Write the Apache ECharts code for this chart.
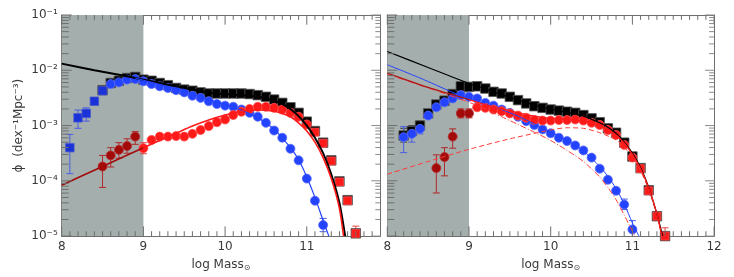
<!DOCTYPE html>
<html><head><meta charset="utf-8">
<script src="https://cdn.jsdelivr.net/npm/echarts@6/dist/echarts.min.js"></script>
<style>html,body{margin:0;padding:0;background:#fff}#c{width:734px;height:277px}</style>
</head><body><div id="c"></div>
<script>
// ---- tick labels ----
const yTickValues = [-5, -4, -3, -2, -1];
const yTickLabels = ['10⁻⁵', '10⁻⁴', '10⁻³', '10⁻²', '10⁻¹'];
const xTicksLeft = [8, 9, 10, 11];
const xTicksRight = [8, 9, 10, 11, 12];

// ---- LEFT PANEL (values are log10 phi) ----
const L_totalX = [8.5,8.6,8.7,8.8,8.9,9.0,9.1,9.2,9.3,9.4,9.5,9.6,9.7,9.8,9.9,10.0,10.1,10.2,10.3,10.4,10.5,10.6,10.7,10.8,10.9,11.0,11.1,11.2,11.3,11.4,11.5,11.6];
const L_total = [-2.36,-2.23,-2.19,-2.14,-2.12,-2.17,-2.19,-2.23,-2.27,-2.32,-2.35,-2.37,-2.40,-2.42,-2.42,-2.42,-2.42,-2.42,-2.43,-2.45,-2.48,-2.53,-2.59,-2.67,-2.77,-2.93,-3.10,-3.31,-3.63,-4.01,-4.35,-4.95];
const L_blueSqX = [8.1,8.2,8.3,8.4,8.5];
const L_blueSq = [-3.40,-2.86,-2.78,-2.56,-2.37];
const L_blueX = [8.6,8.7,8.8,8.9,9.0,9.1,9.2,9.3,9.4,9.5,9.6,9.7,9.8,9.9,10.0,10.1,10.2,10.3,10.4,10.5,10.6,10.7,10.8,10.9,11.0,11.1,11.2];
const L_blue = [-2.25,-2.22,-2.17,-2.16,-2.20,-2.25,-2.29,-2.32,-2.36,-2.40,-2.46,-2.50,-2.56,-2.61,-2.64,-2.66,-2.71,-2.77,-2.84,-2.95,-3.09,-3.22,-3.42,-3.63,-3.96,-4.36,-4.80];
const L_darkRedX = [8.5,8.6,8.7,8.8,8.9];
const L_darkRed = [-3.74,-3.54,-3.44,-3.37,-3.20];
const L_redX = [9.0,9.1,9.2,9.3,9.4,9.5,9.6,9.7,9.8,9.9,10.0,10.1,10.2,10.3,10.4,10.5,10.6,10.7,10.8,10.9,11.0];
const L_red = [-3.41,-3.26,-3.20,-3.20,-3.19,-3.20,-3.15,-3.08,-3.01,-2.94,-2.89,-2.81,-2.75,-2.70,-2.66,-2.66,-2.68,-2.71,-2.77,-2.84,-2.98];
const L_redSqX = [11.1,11.2,11.3,11.4,11.5,11.6];
const L_redSq = [-3.12,-3.32,-3.64,-4.02,-4.36,-4.95];
// error bars [x, low, high]
const L_errBlue = [[8.1,-3.87,-3.16],[8.2,-3.05,-2.72],[8.3,-2.92,-2.68],[11.2,-4.92,-4.68]];
const L_errDarkRed = [[8.5,-4.12,-3.54],[8.6,-3.75,-3.40],[8.7,-3.59,-3.31],[8.8,-3.50,-3.24],[8.9,-3.34,-3.11]];
const L_errRed = [[9.0,-3.51,-3.31],[9.2,-3.25,-3.15],[11.5,-4.42,-4.28],[11.6,-5.20,-4.82]];
// fitted curves [x, log phi]
const L_fitTotal = [[8.0,-1.88],[8.4,-2.00],[8.8,-2.11],[9.0,-2.17],[9.2,-2.23],[9.4,-2.29],[9.6,-2.35],[9.8,-2.40],[10.0,-2.43],[10.2,-2.45],[10.4,-2.48],[10.6,-2.55],[10.7,-2.61],[10.8,-2.70],[10.9,-2.83],[11.0,-3.00],[11.1,-3.22],[11.2,-3.50],[11.3,-3.88],[11.4,-4.40],[11.47,-5.0]];
const L_fitBlue = [[8.9,-2.14],[9.0,-2.18],[9.2,-2.26],[9.4,-2.34],[9.6,-2.43],[9.8,-2.53],[10.0,-2.62],[10.2,-2.72],[10.4,-2.86],[10.6,-3.07],[10.8,-3.40],[10.9,-3.62],[11.0,-3.93],[11.1,-4.30],[11.2,-4.72],[11.27,-5.0]];
const L_fitRedLow = [[8.0,-4.08],[8.5,-3.74],[9.0,-3.40]];
const L_fitRed = [[9.0,-3.40],[9.2,-3.27],[9.4,-3.14],[9.6,-3.01],[9.8,-2.90],[10.0,-2.81],[10.2,-2.74],[10.4,-2.72],[10.6,-2.74],[10.7,-2.78],[10.8,-2.84],[10.9,-2.95],[11.0,-3.10],[11.1,-3.30],[11.2,-3.58],[11.3,-3.96],[11.4,-4.50],[11.45,-5.0]];

// ---- RIGHT PANEL ----
const R_totalX = [8.2,8.3,8.4,8.5,8.6,8.7,8.8,8.9,9.0,9.1,9.2,9.3,9.4,9.5,9.6,9.7,9.8,9.9,10.0,10.1,10.2,10.3,10.4,10.5,10.6,10.7,10.8,10.9,11.0,11.1,11.2,11.3,11.4];
const R_total = [-3.18,-3.10,-3.00,-2.78,-2.62,-2.55,-2.43,-2.29,-2.30,-2.29,-2.33,-2.39,-2.42,-2.48,-2.54,-2.60,-2.65,-2.68,-2.71,-2.73,-2.75,-2.77,-2.81,-2.87,-2.94,-3.05,-3.13,-3.31,-3.56,-3.77,-4.17,-4.64,-5.00];
const R_blueX = [8.2,8.3,8.4,8.5,8.6,8.7,8.8,8.9,9.0,9.1,9.2,9.3,9.4,9.5,9.6,9.7,9.8,9.9,10.0,10.1,10.2,10.3,10.4,10.5,10.6,10.7,10.8,10.9,11.0];
const R_blue = [-3.21,-3.15,-3.06,-2.82,-2.67,-2.58,-2.51,-2.45,-2.48,-2.51,-2.59,-2.64,-2.71,-2.77,-2.84,-2.92,-2.99,-3.07,-3.14,-3.22,-3.28,-3.36,-3.45,-3.58,-3.78,-3.98,-4.18,-4.43,-4.88];
const R_darkRedX = [8.6,8.7,8.8,8.9,9.0];
const R_darkRed = [-3.77,-3.57,-3.20,-2.78,-2.78];
const R_redX = [9.1,9.2,9.3,9.4,9.5,9.6,9.7,9.8,9.9,10.0,10.1,10.2,10.3,10.4,10.5,10.6,10.7,10.8,10.9,11.0];
const R_red = [-2.67,-2.68,-2.71,-2.74,-2.78,-2.82,-2.86,-2.90,-2.91,-2.91,-2.90,-2.90,-2.89,-2.91,-2.95,-2.99,-3.08,-3.17,-3.35,-3.58];
const R_redSqX = [11.1,11.2,11.3,11.4];
const R_redSq = [-3.78,-4.18,-4.64,-5.00];
const R_errBlue = [[8.2,-3.49,-3.02],[8.3,-3.30,-3.02],[8.4,-3.15,-2.97],[10.9,-4.52,-4.33],[11.0,-5.05,-4.72]];
const R_errBlack = [[8.2,-3.30,-3.05],[8.3,-3.20,-3.00],[8.4,-3.08,-2.92]];
const R_errDarkRed = [[8.6,-4.22,-3.53],[8.7,-3.91,-3.40],[8.8,-3.41,-3.06],[8.9,-2.86,-2.70],[9.0,-2.86,-2.70]];
const R_errRed = [[11.3,-4.72,-4.56],[11.4,-5.20,-4.85]];
const R_fitTotal = [[8.0,-1.66],[8.5,-1.95],[9.0,-2.24],[9.2,-2.34],[9.4,-2.44],[9.6,-2.54],[9.8,-2.63],[10.0,-2.70],[10.2,-2.76],[10.4,-2.83],[10.6,-2.95],[10.7,-3.03],[10.8,-3.14],[10.9,-3.30],[11.0,-3.50],[11.1,-3.76],[11.2,-4.12],[11.3,-4.60],[11.37,-5.0]];
const R_fitBlue = [[8.0,-1.90],[8.4,-2.14],[8.8,-2.40],[9.0,-2.51],[9.2,-2.61],[9.4,-2.71],[9.6,-2.83],[9.8,-2.97],[10.0,-3.12],[10.2,-3.27],[10.4,-3.46],[10.6,-3.74],[10.7,-3.92],[10.8,-4.14],[10.9,-4.42],[11.0,-4.76],[11.08,-5.0]];
const R_fitRedLow = [[8.0,-2.05],[8.5,-2.31],[9.0,-2.53]];
const R_fitRed = [[9.0,-2.53],[9.2,-2.62],[9.4,-2.70],[9.6,-2.77],[9.8,-2.83],[10.0,-2.87],[10.2,-2.89],[10.4,-2.92],[10.6,-3.00],[10.8,-3.17],[10.9,-3.32],[11.0,-3.52],[11.1,-3.78],[11.2,-4.13],[11.3,-4.60],[11.36,-5.0]];
const R_fitRedHigh = [[8.0,-3.88],[8.5,-3.65],[9.0,-3.43],[9.5,-3.24],[10.0,-3.08],[10.2,-3.04],[10.4,-3.05],[10.6,-3.13],[10.8,-3.26],[10.9,-3.39],[11.0,-3.57],[11.1,-3.82],[11.2,-4.16],[11.3,-4.62],[11.36,-5.0]];
const R_fitRedSteep = [[8.0,-2.07],[8.5,-2.32],[9.0,-2.58],[9.2,-2.70],[9.4,-2.84],[9.6,-2.98],[9.8,-3.12],[10.0,-3.27],[10.2,-3.45],[10.4,-3.65],[10.6,-3.93],[10.7,-4.12],[10.8,-4.34],[10.9,-4.62],[11.03,-5.0]];

// ---- styling ----
const FONT = 'DejaVu Sans';
const AX = '#6e6e6e';
const TXT = '#3a3a3a';
const C_BLACK = '#000000', C_BLUE = '#2343ff', C_BLUE_D = '#1a32d8', C_RED = '#ff1a1a', C_DRED = '#a30b0b';
const SHADE = '#a4aeac';

const grids = [
  {left: 61.7, top: 15, width: 318.6, height: 228},
  {left: 387.3, top: 15, width: 326.8, height: 228}
];
const xMaxes = [11.9, 12];

const xAxes = [], yAxes = [];
function buildAxes(g, xmax, xLabels, showY) {
  const line = {show: true, onZero: false, lineStyle: {color: AX, width: 1}};
  xAxes.push({type: 'value', gridIndex: g, min: 8, max: xmax, position: 'bottom', splitLine: {show: false},
    axisLine: line, axisTick: {show: false},
    axisLabel: {show: true, customValues: xLabels, color: TXT, fontSize: 12, fontFamily: FONT, margin: 5},
    name: 'log Mass{sub|⊙}', nameLocation: 'middle', nameGap: 19,
    nameTextStyle: {color: TXT, fontSize: 12, fontFamily: FONT,
      rich: {sub: {fontSize: 8, fontFamily: FONT, color: TXT, padding: [6, 0, 0, 0], lineHeight: 8}}}});
  xAxes.push({type: 'value', gridIndex: g, min: 8, max: xmax, position: 'top', splitLine: {show: false},
    axisLine: line, axisTick: {show: false}, axisLabel: {show: false}});
  yAxes.push({type: 'value', gridIndex: g, min: -5, max: -1, position: 'left', splitLine: {show: false},
    axisLine: line, axisTick: {show: false},
    axisLabel: {show: showY, customValues: yTickValues, color: TXT, fontSize: 12, fontFamily: FONT, margin: 4,
      formatter: v => yTickLabels[yTickValues.indexOf(Math.round(v))]},
    name: showY ? 'ϕ  (dex⁻¹Mpc⁻³)' : '', nameLocation: 'middle', nameGap: 37, nameRotate: 90,
    nameTextStyle: {color: TXT, fontSize: 12, fontFamily: FONT}});
  yAxes.push({type: 'value', gridIndex: g, min: -5, max: -1, position: 'right', splitLine: {show: false},
    axisLine: line, axisTick: {show: false}, axisLabel: {show: false}});
}
buildAxes(0, xMaxes[0], xTicksLeft, true);
buildAxes(1, xMaxes[1], xTicksRight, false);

function zip(xs, ys) { return xs.map((x, i) => [x, ys[i]]); }
const XI = g => g * 2, YI = g => g * 2;

function pts(g, xs, ys, symbol, size, color, border, z) {
  return {type: 'scatter', xAxisIndex: XI(g), yAxisIndex: YI(g), data: zip(xs, ys),
    symbol: symbol, symbolSize: size, clip: false, silent: true, z: z,
    itemStyle: {color: color, borderColor: border, borderWidth: 0.8, opacity: 1}};
}
function fit(g, data, color, width, type) {
  return {type: 'line', xAxisIndex: XI(g), yAxisIndex: YI(g), data: data, showSymbol: false,
    symbol: 'none', smooth: 0.25, clip: true, silent: true, z: 5,
    lineStyle: {color: color, width: width, type: type || 'solid'}};
}
function err(g, data, color) {
  return {type: 'custom', xAxisIndex: XI(g), yAxisIndex: YI(g), data: data, clip: true, silent: true, z: 2,
    renderItem: function (params, api) {
      const x = api.value(0), lo = api.value(1), hi = api.value(2);
      const a = api.coord([x, lo]), b = api.coord([x, hi]), w = 3.5;
      const st = {stroke: color, lineWidth: 1};
      return {type: 'group', children: [
        {type: 'line', shape: {x1: a[0], y1: a[1], x2: b[0], y2: b[1]}, style: st},
        {type: 'line', shape: {x1: a[0] - w, y1: a[1], x2: a[0] + w, y2: a[1]}, style: st},
        {type: 'line', shape: {x1: b[0] - w, y1: b[1], x2: b[0] + w, y2: b[1]}, style: st}
      ]};
    }};
}
function shade(g) {
  return {type: 'line', xAxisIndex: XI(g), yAxisIndex: YI(g), data: [], silent: true, z: 1,
    markArea: {silent: true, itemStyle: {color: SHADE, opacity: 1}, data: [[{xAxis: 8}, {xAxis: 9}]]}};
}
// inward tick marks drawn as broken line segments through the axis scales
const GAP = ['-', '-'];
function tickLine(g, segs, color) {
  return {type: 'line', xAxisIndex: XI(g), yAxisIndex: YI(g), data: segs, connectNulls: false,
    showSymbol: false, symbol: 'none', clip: false, silent: true, z: 8,
    lineStyle: {color: color, width: 1}};
}
function ticks(g, xmax, xMajor) {
  const ux = (xmax - 8) / grids[g].width, uy = 4 / grids[g].height;
  const xs = [], yl = [], yr = [];
  const addX = (v, L) => {
    xs.push([v, -5], [v, -5 + L * uy], GAP, [v, -1], [v, -1 - L * uy], GAP);
  };
  xMajor.forEach(v => addX(v, 10));
  for (let i = 81; i < Math.round(xmax * 10); i++) if (i % 10) addX(i / 10, 5);
  const addY = (v, Ll, Lr) => {
    yl.push([8, v], [8 + Ll * ux, v], GAP);
    yr.push([xmax, v], [xmax - Lr * ux, v], GAP);
  };
  yTickValues.forEach(v => addY(v, 10, 9));
  for (let d = -5; d < -1; d++) for (let k = 2; k <= 9; k++) addY(d + Math.log10(k), 7, 5);
  return [tickLine(g, xs, AX), tickLine(g, yl, AX), tickLine(g, yr, '#8a8a8a')];
}

const series = [
  shade(0), shade(1),
  // left panel
  err(0, L_errBlue, '#4b5de6'), err(0, L_errDarkRed, '#b02a2a'), err(0, L_errRed, '#e84545'),
  pts(0, L_totalX, L_total, 'rect', 9.5, C_BLACK, '#555', 3),
  pts(0, L_blueSqX, L_blueSq, 'rect', 8.5, C_BLUE_D, '#4a5ad0', 4),
  pts(0, L_blueX, L_blue, 'circle', 9, C_BLUE, '#5a6cff', 4),
  pts(0, L_darkRedX, L_darkRed, 'circle', 9, C_DRED, '#b83030', 4),
  pts(0, L_redX, L_red, 'circle', 9, C_RED, '#ff5050', 4),
  pts(0, L_redSqX, L_redSq, 'rect', 8, C_RED, '#ff5050', 4),
  fit(0, L_fitTotal, C_BLACK, 2),
  fit(0, L_fitBlue, C_BLUE, 1.2),
  fit(0, L_fitRedLow, C_DRED, 1.6),
  fit(0, L_fitRed, C_RED, 1.6),
  // right panel
  err(1, R_errBlack, '#444'), err(1, R_errBlue, '#4b5de6'), err(1, R_errDarkRed, '#b02a2a'), err(1, R_errRed, '#e84545'),
  pts(1, R_totalX, R_total, 'rect', 9.5, C_BLACK, '#555', 3),
  pts(1, R_blueX, R_blue, 'circle', 9, C_BLUE, '#5a6cff', 4),
  pts(1, R_darkRedX, R_darkRed, 'circle', 9, C_DRED, '#b83030', 4),
  pts(1, R_redX, R_red, 'circle', 9, C_RED, '#ff5050', 4),
  pts(1, R_redSqX, R_redSq, 'rect', 8, C_RED, '#ff5050', 4),
  fit(1, R_fitRedHigh, '#ff3a3a', 1, [5, 3]),
  fit(1, R_fitRedSteep, '#ff3a3a', 1, [6, 2, 1, 2]),
  fit(1, R_fitTotal, C_BLACK, 1.2),
  fit(1, R_fitBlue, C_BLUE, 1),
  fit(1, R_fitRedLow, '#b01515', 1.3),
  fit(1, R_fitRed, C_RED, 1.3)
].concat(ticks(0, xMaxes[0], xTicksLeft), ticks(1, xMaxes[1], xTicksRight));

const chart = echarts.init(document.getElementById('c'), null, {renderer: 'canvas'});
chart.setOption({
  animation: false,
  backgroundColor: '#ffffff',
  grid: grids,
  xAxis: xAxes,
  yAxis: yAxes,
  series: series
});
</script></body></html>
